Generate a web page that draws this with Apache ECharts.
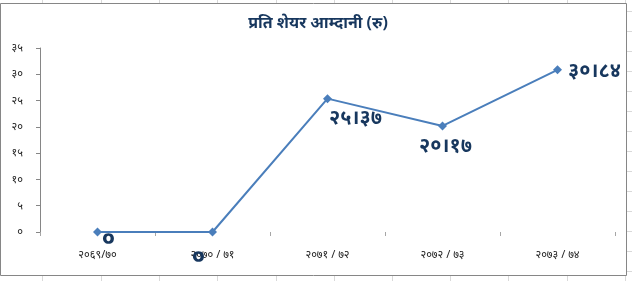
<!DOCTYPE html>
<html>
<head>
<meta charset="utf-8">
<script src="https://cdn.jsdelivr.net/npm/echarts@6/dist/echarts.min.js"></script>
<style>
html,body{margin:0;padding:0;background:#fff;}
#c{width:632px;height:281px;}
</style>
</head>
<body>
<div id="c"></div>
<script>
// Data
var titleText = 'प्रति शेयर आम्दानी (रु)';
var categories = ['२०६९/७०', '२०७० / ७१', '२०७१ / ७२', '२०७२ / ७३', '२०७३ / ७४'];
var values = [0, 0, 25.37, 20.17, 30.84];
var yTicks = [0, 5, 10, 15, 20, 25, 30, 35];

var devDigits = ['०','१','२','३','४','५','६','७','८','९'];
function toDev(v) {
  return String(v).replace(/[0-9]/g, function (d) { return devDigits[+d]; }).replace('.', '।');
}

// label placement (style, not data)
var labelOffsets = [[11, 7], [-14, 25], [28, 20], [3, 20], [37, 1]];

var chart = echarts.init(document.getElementById('c'), null, {renderer: 'canvas'});
var devFont = '"Noto Sans", "Noto Sans Devanagari", "Lohit Devanagari", sans-serif';

var seriesData = values.map(function (v, i) {
  return {
    value: v,
    label: {
      show: true,
      position: 'inside',
      offset: labelOffsets[i],
      formatter: function (p) { return toDev(p.value); },
      color: '#17375E',
      fontSize: v === 0 ? 24 : 20,
      fontWeight: 'bold',
      fontFamily: devFont
    }
  };
});

// spreadsheet gridlines outside the chart
var sheetLines = [];
[42, 101, 159, 217, 276, 334, 392, 450, 508, 567, 625].forEach(function (x) {
  sheetLines.push({type: 'line', shape: {x1: x + 0.5, y1: 0, x2: x + 0.5, y2: 3}, style: {stroke: '#D9D9D9', lineWidth: 1}, silent: true});
  sheetLines.push({type: 'line', shape: {x1: x + 0.5, y1: 276, x2: x + 0.5, y2: 281}, style: {stroke: '#D9D9D9', lineWidth: 1}, silent: true});
});
[11, 31, 51, 71, 91, 111, 131, 151, 171, 191, 211, 231, 251, 271].forEach(function (y) {
  sheetLines.push({type: 'line', shape: {x1: 627, y1: y + 0.5, x2: 632, y2: y + 0.5}, style: {stroke: '#D9D9D9', lineWidth: 1}, silent: true});
});
sheetLines.push({type: 'rect', shape: {x: 0.5, y: 3.5, width: 626, height: 272}, style: {fill: 'none', stroke: '#868686', lineWidth: 1}, silent: true});

chart.setOption({
  backgroundColor: '#fff',
  animation: false,
  title: {
    text: titleText,
    left: 313,
    top: 10,
    textAlign: 'center',
    textStyle: {color: '#17375E', fontSize: 16, fontWeight: 'bold', fontFamily: devFont}
  },
  graphic: sheetLines,
  grid: {left: 40, right: 17, top: 48, bottom: 49, containLabel: false},
  xAxis: {
    type: 'category',
    data: categories,
    boundaryGap: true,
    axisLine: {show: false},
    axisTick: {show: true, length: 4, lineStyle: {color: '#A6A6A6'}},
    axisLabel: {color: '#222', fontSize: 11, margin: 17, fontFamily: devFont},
    splitLine: {show: false}
  },
  yAxis: {
    type: 'value',
    min: 0,
    max: 35,
    interval: 5,
    axisLine: {show: true, lineStyle: {color: '#868686'}},
    axisTick: {show: true, length: 4, lineStyle: {color: '#868686'}},
    axisLabel: {
      color: '#222', fontSize: 11, margin: 17, fontFamily: devFont,
      formatter: function (v) { return yTicks.indexOf(v) >= 0 ? toDev(v) : ''; }
    },
    splitLine: {show: false}
  },
  series: [{
    type: 'line',
    data: seriesData,
    symbol: 'diamond',
    symbolSize: 9,
    itemStyle: {color: '#4A7EBB'},
    lineStyle: {color: '#4A7EBB', width: 2}
  }]
});
</script>
</body>
</html>
